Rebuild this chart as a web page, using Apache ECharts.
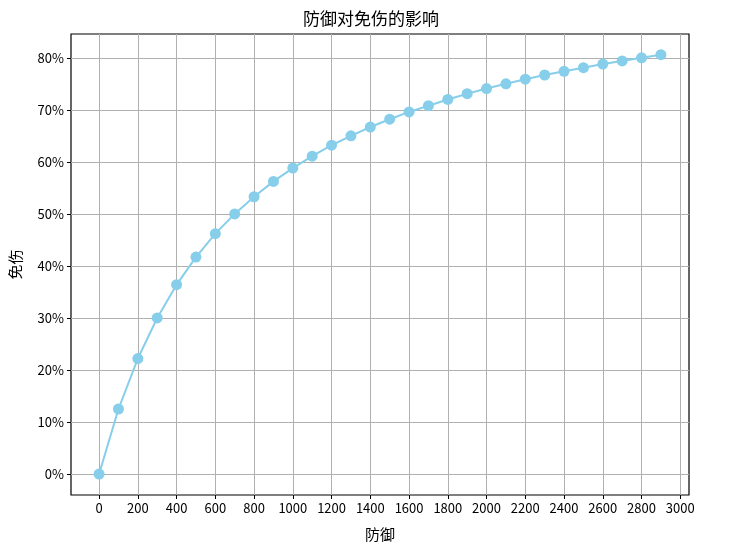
<!DOCTYPE html>
<html>
<head>
<meta charset="utf-8">
<script src="https://cdn.jsdelivr.net/npm/echarts@6/dist/echarts.min.js"></script>
<style>
html,body{margin:0;padding:0;background:#fff;}
#main{width:742px;height:556px;}
</style>
</head>
<body>
<div id="main"></div>
<script>
// 防御值
var defense = [0,100,200,300,400,500,600,700,800,900,1000,1100,1200,1300,1400,
  1500,1600,1700,1800,1900,2000,2100,2200,2300,2400,2500,2600,2700,2800,2900];
// 免伤 (比例)
var reduction = [0,0.125,0.222,0.300,0.364,0.417,0.462,0.500,0.533,0.5625,0.588,
  0.611,0.632,0.650,0.667,0.682,0.696,0.708,0.720,0.731,0.741,0.750,0.759,0.767,
  0.774,0.781,0.788,0.794,0.800,0.806];
var xTicks = [0,200,400,600,800,1000,1200,1400,1600,1800,2000,2200,2400,2600,2800,3000];
var yTicks = [0,0.1,0.2,0.3,0.4,0.5,0.6,0.7,0.8];

var font = '"Noto Sans CJK SC", sans-serif';
var chart = echarts.init(document.getElementById('main'));

var pts = []
for(var i = 0; i<defense.length; i++){
  pts.push([defense[i], reduction[i]])
}

var option = {
  animation: false,
  title: {
    text: '防御对免伤的影响',
    left: 'center',
    top: 5,
    textStyle: {fontFamily: font, fontSize: 17, fontWeight: 'normal', color: '#000'}
  },
  grid: {
    left: 69, right: 53, top: 34, bottom: 61,
    show: true, borderColor: '#000', borderWidth: 1.2
  },
  xAxis: {
    type: 'value',
    min: -145, max: 3045,
    name: '防御',
    nameLocation: 'middle',
    nameGap: 32,
    nameTextStyle: {fontFamily: font, fontSize: 15, color: '#000'},
    axisLine: {show: false, onZero: false},
    axisTick: {show: true, inside: false, length: 4, customValues: xTicks, lineStyle: {color: '#000'}},
    axisLabel: {
      customValues: xTicks, fontFamily: font, fontSize: 13, color: '#000', margin: 7,
      formatter: function(v){ return String(v) }
    },
    splitLine: {show: true, lineStyle: {color: '#b0b0b0', width: 1}}
  },
  yAxis: {
    type: 'value',
    min: -0.0403, max: 0.8458,
    name: '免伤',
    nameLocation: 'middle',
    nameGap: 48,
    nameRotate: 90,
    nameTextStyle: {fontFamily: font, fontSize: 15, color: '#000'},
    axisLine: {show: false, onZero: false},
    axisTick: {show: true, inside: false, length: 4, customValues: yTicks, lineStyle: {color: '#000'}},
    axisLabel: {
      customValues: yTicks, fontFamily: font, fontSize: 13, color: '#000', margin: 7,
      formatter: function(v){ return Math.round(v*100) + '%' }
    },
    splitLine: {show: true, lineStyle: {color: '#b0b0b0', width: 1}}
  },
  series: [{
    type: 'line',
    data: pts,
    symbol: 'circle',
    symbolSize: 11,
    itemStyle: {color: '#87ceeb'},
    lineStyle: {color: '#87ceeb', width: 2}
  }]
}
chart.setOption(option);
</script>
</body>
</html>
